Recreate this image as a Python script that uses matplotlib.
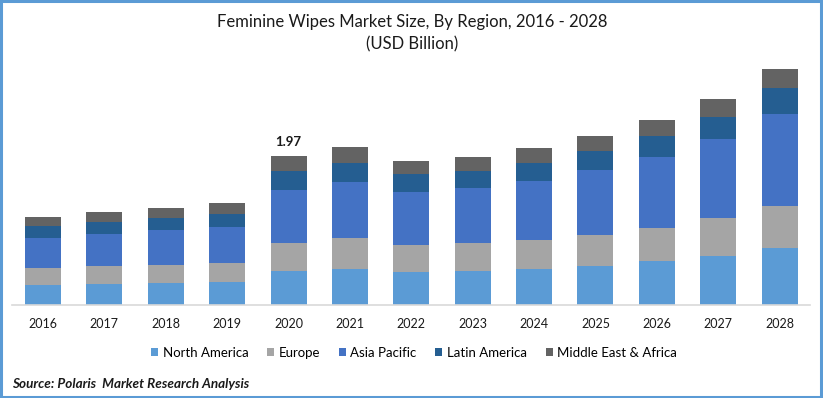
import numpy as np
import matplotlib
import matplotlib.pyplot as plt
from matplotlib.patches import Rectangle

matplotlib.use('agg')

plt.rcParams['font.family'] = ['Lato', 'DejaVu Sans']

years = ['2016', '2017', '2018', '2019', '2020', '2021', '2022',
         '2023', '2024', '2025', '2026', '2027', '2028']
regions = ['North America', 'Europe', 'Asia Pacific', 'Latin America', 'Middle East & Africa']
colors = ['#5B9BD5', '#A5A5A5', '#4472C4', '#255E91', '#636363']

north_america = [0.26, 0.28, 0.29, 0.30, 0.45, 0.48, 0.44, 0.45, 0.48, 0.52, 0.58, 0.65, 0.75]
europe = [0.23, 0.24, 0.24, 0.25, 0.37, 0.40, 0.36, 0.37, 0.38, 0.41, 0.44, 0.50, 0.56]
asia_pacific = [0.40, 0.42, 0.46, 0.48, 0.70, 0.75, 0.69, 0.73, 0.78, 0.85, 0.94, 1.04, 1.22]
latin_america = [0.15, 0.16, 0.16, 0.17, 0.25, 0.25, 0.24, 0.22, 0.24, 0.25, 0.28, 0.30, 0.34]
mea = [0.13, 0.13, 0.13, 0.15, 0.20, 0.21, 0.17, 0.19, 0.19, 0.20, 0.21, 0.24, 0.25]

series = [north_america, europe, asia_pacific, latin_america, mea]

fig = plt.figure(figsize=(8.23, 3.98), dpi=100)
ax = fig.add_axes([12 / 823, 93 / 398, 798 / 823, 245 / 398])

x = np.arange(len(years))
bottom = np.zeros(len(years))
for name, vals, c in zip(regions, series, colors):
    ax.bar(x, vals, 0.586, bottom=bottom, color=c, label=name)
    bottom += np.array(vals)

# label for 2020 total
ax.text(4, bottom[4] + 0.1, '1.97', ha='center', va='bottom',
        fontsize=9.5, fontweight='bold', color='#1a1a1a')

ax.set_xlim(-0.505, 12.495)
ax.set_ylim(0, 3.24)
ax.set_yticks([])
ax.set_xticks(x)
ax.set_xticklabels(years, fontsize=9, color='#1a1a1a')
ax.tick_params(axis='x', length=0, pad=9)
for s in ['top', 'right', 'left']:
    ax.spines[s].set_visible(False)
ax.spines['bottom'].set_color('#D9D9D9')
ax.spines['bottom'].set_linewidth(1.2)

fig.text(412 / 823, 1 - 22 / 398, 'Feminine Wipes Market Size, By Region, 2016 - 2028',
         ha='center', va='center', fontsize=12, color='#1a1a1a')
fig.text(412 / 823, 1 - 44 / 398, '(USD Billion)',
         ha='center', va='center', fontsize=12, color='#1a1a1a')

handles, labels = ax.get_legend_handles_labels()
fig.legend(handles, labels, loc='center', bbox_to_anchor=(414 / 823, 1 - 353 / 398),
           ncol=5, frameon=False, fontsize=9.5, handlelength=0.55, handleheight=0.55,
           handletextpad=0.35, columnspacing=1.4)

fig.text(12 / 823, 1 - 384 / 398, 'Source: Polaris  Market Research Analysis',
         ha='left', va='center', fontsize=9.7, fontweight='bold', fontstyle='italic',
         color='#1a1a1a')

# blue frame around the picture
fig.patches.append(Rectangle((0.001, 0.002), 0.997, 0.995, transform=fig.transFigure,
                             fill=False, edgecolor='#5B9BD5', linewidth=2.2))

fig.savefig('out.png', dpi=100, facecolor='white')
